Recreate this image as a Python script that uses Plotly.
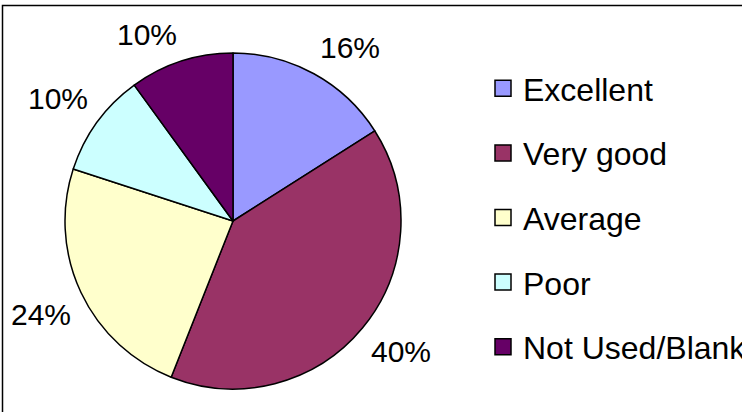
import math
import plotly.graph_objects as go

labels = ["Excellent", "Very good", "Average", "Poor", "Not Used/Blank"]
values = [16, 40, 24, 10, 10]
colors = ["#9999FF", "#993366", "#FFFFCC", "#CCFFFF", "#660066"]

W, H = 742, 412
FONT = "Arial, Liberation Sans, sans-serif"

# pie geometry (pixels)
cx, cy, R = 233, 221, 168

fig = go.Figure()
fig.add_trace(go.Pie(
    labels=labels, values=values, sort=False, direction="clockwise", rotation=0,
    marker=dict(colors=colors, line=dict(color="black", width=1.5)),
    textinfo="none", showlegend=False, hoverinfo="label+percent",
    domain=dict(x=[(cx - R) / W, (cx + R) / W], y=[1 - (cy + R) / H, 1 - (cy - R) / H]),
))

# legend via dummy traces
for lab, col in zip(labels, colors):
    fig.add_trace(go.Scatter(
        x=[None], y=[None], mode="markers", name=lab, legendgroup=lab,
        marker=dict(symbol="square", size=19, color=col, line=dict(color="black", width=1.5)),
    ))

# percentage labels outside the slices, corner-anchored just outside the rim
total = sum(values)
cum = 0
annotations = []
gap = 10
for v in values:
    mid = (cum + v / 2) / total * 2 * math.pi
    cum += v
    s, c = math.sin(mid), -math.cos(mid)
    px, py = cx + (R + gap) * s, cy + (R + gap) * c
    annotations.append(dict(
        x=px / W, y=1 - py / H, xref="paper", yref="paper",
        text=f"{round(v / total * 100)}%", showarrow=False,
        font=dict(family=FONT, size=30, color="black"),
        xanchor="left" if s >= 0 else "right",
        yanchor="top" if c >= 0 else "bottom",
        borderpad=0,
    ))

fig.update_layout(
    width=W, height=H, margin=dict(l=0, r=0, t=0, b=0, autoexpand=False),
    paper_bgcolor="white", plot_bgcolor="white",
    xaxis=dict(visible=False), yaxis=dict(visible=False),
    annotations=annotations,
    legend=dict(
        x=483 / W, y=1 - 61 / H, xanchor="left", yanchor="top",
        font=dict(family=FONT, size=32, color="black"),
        tracegroupgap=20, bgcolor="rgba(0,0,0,0)", borderwidth=0,
    ),
    shapes=[dict(type="rect", xref="paper", yref="paper",
                 x0=2.5 / W, x1=1.2, y0=-0.2, y1=1 - 5.5 / H,
                 line=dict(color="black", width=1.5), fillcolor="rgba(0,0,0,0)")],
)

fig.write_html("out.html")
